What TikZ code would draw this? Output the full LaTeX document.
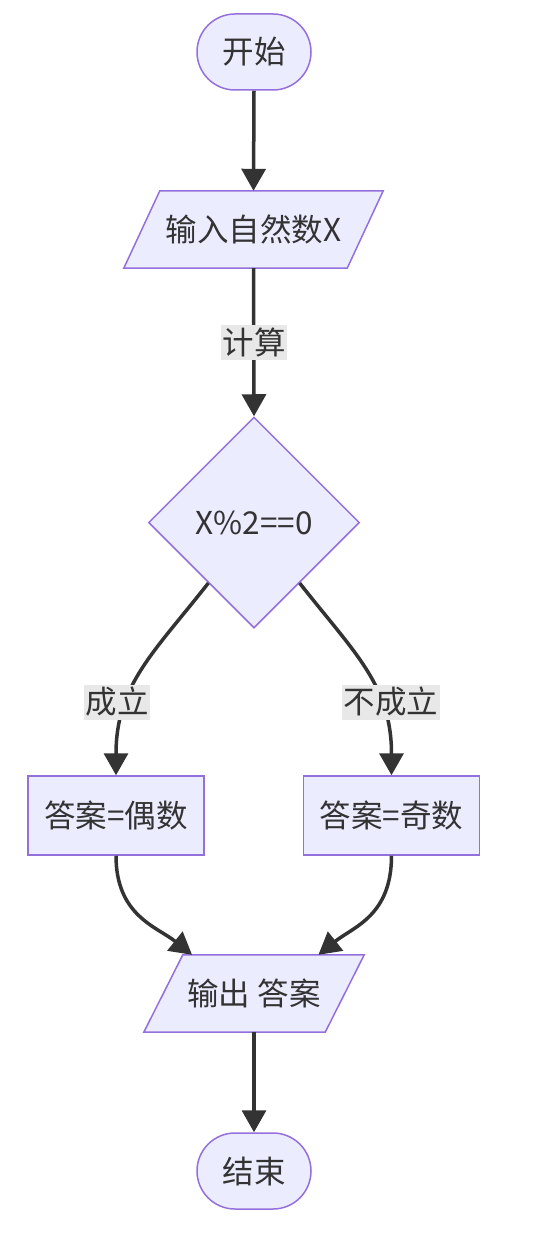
\documentclass[tikz,border=0pt]{standalone}
\usepackage{fontspec}
\setmainfont{Noto Sans CJK SC}
\usetikzlibrary{shapes.geometric,arrows.meta,backgrounds}
\definecolor{nfill}{HTML}{ECECFF}
\definecolor{nline}{HTML}{9370DB}
\definecolor{ink}{HTML}{333333}
\definecolor{lblbg}{HTML}{E8E8E8}
\begin{document}
\begin{tikzpicture}[x=1pt,y=-1pt,
  every node/.style={font=\fontsize{31.5}{37}\selectfont, text=ink},
  term/.style={draw=nline, fill=nfill, line width=1.5pt, rectangle, rounded corners=38pt,
    minimum width=114pt, minimum height=76pt, inner sep=0pt},
  proc/.style={draw=nline, fill=nfill, line width=1.5pt, rectangle,
    minimum width=176pt, minimum height=79pt, inner sep=0pt},
  io/.style={rectangle, inner sep=0pt, minimum height=77pt},
  iobox/.style={draw=nline, fill=nfill, line width=1.5pt},
  decis/.style={draw=nline, fill=nfill, line width=1.5pt, diamond, aspect=1,
    minimum size=211pt, inner sep=0pt},
  lbl/.style={fill=lblbg, inner xsep=1.5pt, inner ysep=0pt, minimum height=35pt},
  arr/.style={draw=ink, line width=3.5pt, -{Triangle[length=22pt,width=24pt]}}
]
\useasboundingbox (0,0) rectangle (537,1244);

\node[term] (start) at (254,52) {开始};
\node[io, minimum width=259pt] (in) at (253.5,229.5) {输入自然数X};
\node[decis] (dec) at (254,522.5) {X\%2==0};
\node[proc] (even) at (116,815.5) {答案=偶数};
\node[proc] (odd) at (391.5,815.5) {答案=奇数};
\node[io, minimum width=220pt] (out) at (254,993.5) {输出 答案};
\node[term] (end) at (254,1171) {结束};

\begin{scope}[on background layer]
\draw[iobox] (in.south west) -- ([xshift=36pt]in.north west) -- (in.north east)
  -- ([xshift=-36pt]in.south east) -- cycle;
\draw[iobox] (out.south west) -- ([xshift=39pt]out.north west) -- (out.north east)
  -- ([xshift=-39pt]out.south east) -- cycle;
\end{scope}

\draw[arr] (start.south) -- (in.north);
\draw[arr] (in.south) -- (dec.north);
\node[lbl] (lcalc) at (254,342) {计算};

\draw[arr] (dec.233) .. controls +(-55,70) and +(0,-90) .. (even.north);
\node[lbl] (lyes) at (117,702) {成立};
\draw[arr] (dec.307) .. controls +(55,70) and +(0,-90) .. (odd.north);
\node[lbl] (lno) at (391,702) {不成立};

\draw[arr] (even.south) .. controls +(0,60) and +(-35,-28) .. (out.148);
\draw[arr] (odd.south) .. controls +(0,60) and +(35,-28) .. (out.31.5);
\draw[arr] (out.south) -- (end.north);
\end{tikzpicture}
\end{document}
